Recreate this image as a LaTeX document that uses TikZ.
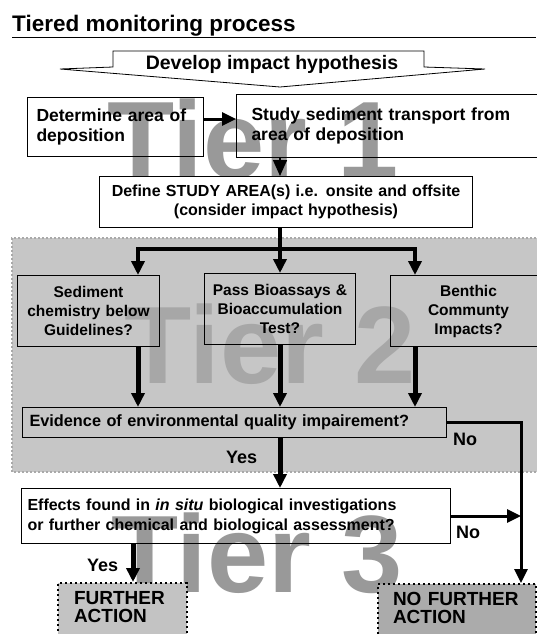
\documentclass[tikz,border=0pt]{standalone}
\usepackage{fontspec}
\setmainfont{Liberation Sans}
\usetikzlibrary{arrows.meta}
\definecolor{tiergrey}{HTML}{C6C6C6}
\definecolor{edgegrey}{HTML}{A9A9A9}
\definecolor{markgrey}{HTML}{999999}
\definecolor{marktwo}{HTML}{A7A7A7}
\definecolor{actgrey}{HTML}{C3C3C3}
\definecolor{noactgrey}{HTML}{ABABAB}
\begin{document}
\begin{tikzpicture}[x=1pt, y=-1pt,
  box/.style={draw, line width=1pt, anchor=north west, inner ysep=0pt, align=left},
  midbox/.style={box, inner xsep=0pt, align=center},
  action/.style={draw, line width=2pt, dash pattern=on 2pt off 3pt, anchor=north west, inner ysep=8pt, inner xsep=16pt, align=left, text depth=32pt, font=\bfseries\fontsize{19}{18}\selectfont},
  tier/.style={anchor=base west, inner sep=0pt, font=\bfseries\fontsize{110}{110}\selectfont},
  lbl/.style={anchor=base west, inner sep=0pt, font=\bfseries\fontsize{18}{20}\selectfont},
  arr/.style={-{Triangle[length=14pt,width=13pt]}, line width=3pt},
  bigarr/.style={arr, line width=5pt},
  thinarr/.style={-{Triangle[length=16pt,width=14pt]}, line width=1.5pt}
]
  \useasboundingbox (0,0) rectangle (536,634);
  \fill[tiergrey] (12,238) rectangle (560,472);
  \draw[edgegrey, line width=1.5pt, dash pattern=on 2pt off 2pt] (560,238) -- (12,238) -- (12,472) -- (560,472);
  \node[tier, text=markgrey] (tierone) at (107,178) {Tier 1};
  \node[tier, text=marktwo] (tiertwo) at (124,383) {Tier 2};
  \node[tier, text=markgrey] (tierthree) at (111,592) {Tier 3};

  \node[anchor=base west, inner sep=0pt, font=\bfseries\fontsize{22.5}{25}\selectfont] (title) at (12,31.5) {Tiered monitoring process};
  \draw[line width=1pt] (12,38) -- (536,38);
  \draw[line width=0.8pt, fill=white] (113,51) -- (424,51) -- (424,67) -- (485,69) -- (280,87) -- (60,69) -- (113,67) -- cycle;
  \coordinate (tip) at (280,87);
  \node[anchor=base, inner sep=0pt, font=\bfseries\fontsize{19.5}{22}\selectfont] (hypo) at (272,70) {Develop impact hypothesis};

  \node[box, inner xsep=9pt, text width=158pt, minimum height=59pt, font=\bfseries\fontsize{17.5}{20}\selectfont] (area) at (27,97) {Determine area of\\deposition};
  \node[box, inner xsep=15pt, text width=300pt, minimum height=63pt, font=\bfseries\fontsize{17.5}{20}\selectfont] (transport) at (236,94) {Study sediment transport from\\area of deposition};
  \node[midbox, fill=white, text width=373pt, minimum height=51pt, font=\bfseries\fontsize{16}{19}\selectfont] (studyarea) at (99,176) {Define STUDY AREA(s) i.e. onsite and offsite\\(consider impact hypothesis)};
  \node[midbox, text width=142pt, minimum height=71pt, font=\bfseries\fontsize{15.5}{19}\selectfont] (chem) at (17,275) {Sediment\\chemistry below\\Guidelines?};
  \node[midbox, text width=151pt, minimum height=71pt, font=\bfseries\fontsize{15.5}{19}\selectfont] (bioassay) at (204,273) {Pass Bioassays \&\\Bioaccumulation\\Test?};
  \node[midbox, text width=156pt, minimum height=71pt, font=\bfseries\fontsize{15.5}{19}\selectfont] (benthic) at (390,275) {Benthic\\Communty\\Impacts?};
  \node[box, fill=tiergrey, inner xsep=7pt, text width=410pt, minimum height=30pt, font=\bfseries\fontsize{16.3}{19}\selectfont] (evidence) at (22,407) {Evidence of environmental quality impairement?};
  \node[box, inner xsep=6pt, text width=417pt, minimum height=55pt, font=\bfseries\fontsize{16}{20}\selectfont] (effects) at (21,488) {Effects found in \textit{in situ} biological investigations\\or further chemical and biological assessment?};
  \node[action, fill=actgrey, text width=97pt] (further) at (57,582) {FURTHER\\ACTION};
  \node[action, fill=noactgrey, inner xsep=15pt, text width=128pt] (nofurther) at (377,583) {NO FURTHER\\ACTION};

  \coordinate (split) at (280,249);
  \coordinate (lsplit) at (138,249);
  \coordinate (rsplit) at (415,249);
  \coordinate (drop) at (521,582);
  \draw[arr] ([yshift=8pt]area.east) -- ([yshift=8pt]area.east -| transport.west);
  \draw[thinarr] (tip |- transport.south) -- (tip |- studyarea.north);
  \draw[line width=4pt] (tip |- studyarea.south) -- (split);
  \draw[arr, line width=4pt] (split) -| (chem.north -| lsplit);
  \draw[arr, line width=4pt] (split) -| (benthic.north -| rsplit);
  \draw[arr, line width=4pt] (split) -- (bioassay.north -| split);
  \draw[bigarr] (chem.south -| lsplit) -- (evidence.north -| lsplit);
  \draw[bigarr] (bioassay.south -| tip) -- (evidence.north -| tip);
  \draw[bigarr] (benthic.south -| rsplit) -- (evidence.north -| rsplit);
  \draw[bigarr] (evidence.south -| tip) -- (effects.north -| tip);
  \draw[arr] (evidence.east) -| (drop |- nofurther.north);
  \draw[arr] (effects.east) -- (effects.east -| drop);
  \draw[bigarr] ([xshift=10.5pt]further.north |- effects.south) -- ([xshift=10.5pt]further.north);

  \node[lbl] (yesone) at (226,463) {Yes};
  \node[lbl] (noone) at (453,445) {No};
  \node[lbl] (notwo) at (456,538) {No};
  \node[lbl] (yestwo) at (87,571) {Yes};
\end{tikzpicture}
\end{document}
